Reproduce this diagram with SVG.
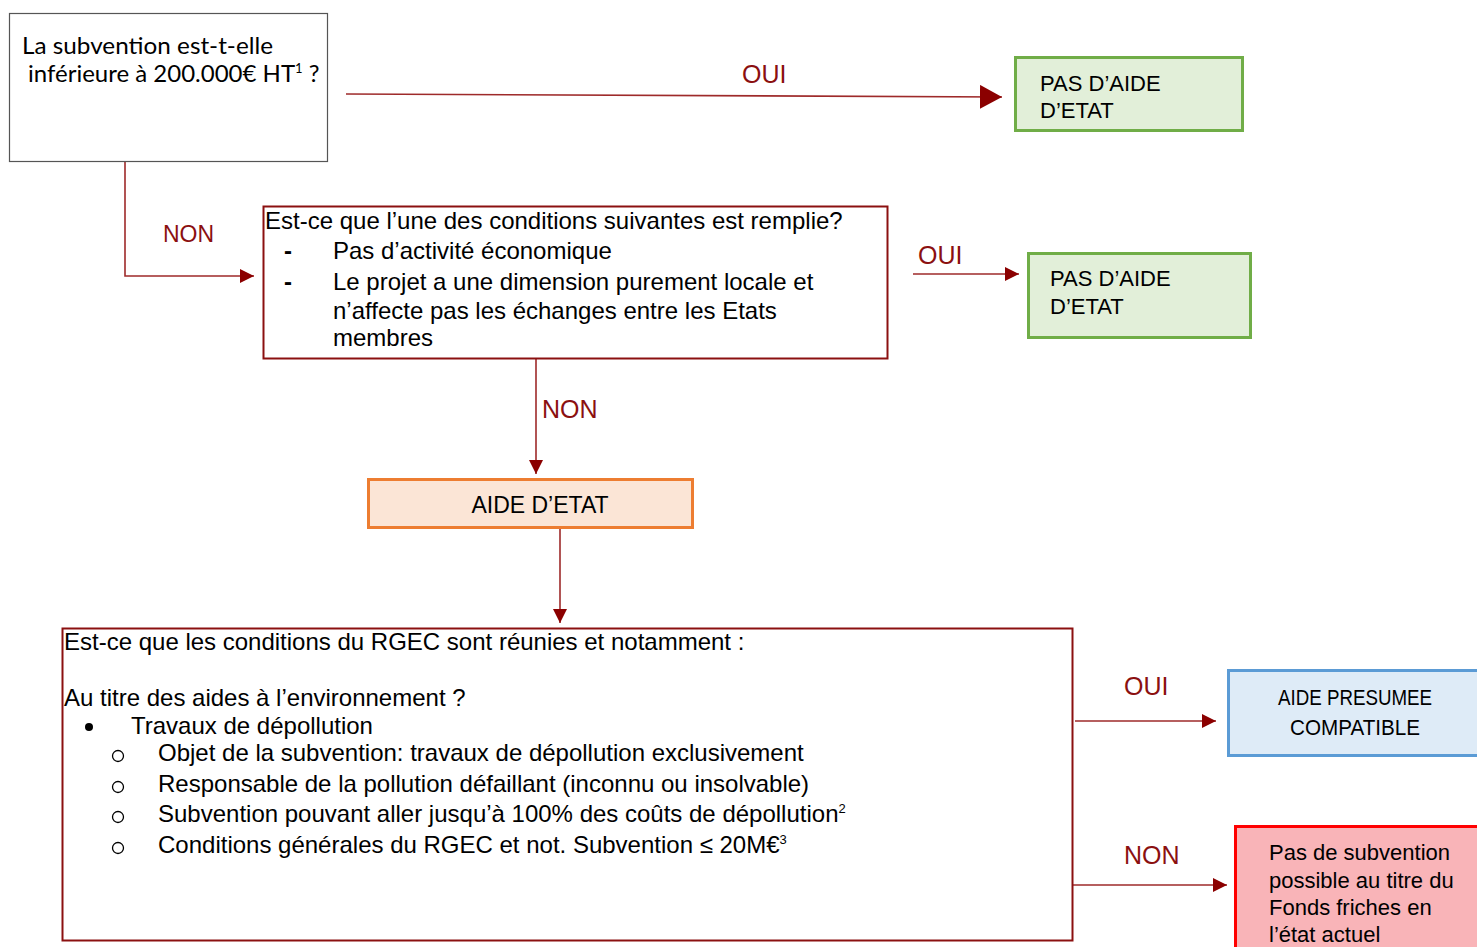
<svg xmlns="http://www.w3.org/2000/svg" width="1477" height="947" viewBox="0 0 1477 947">
<style>
.t{font-family:"Liberation Sans",Arial,sans-serif;font-size:22px;fill:#000}
.b{font-size:24px}
.c{font-family:Lato,"Open Sans","Liberation Sans",sans-serif;font-size:24px;fill:#000}
.lbl{font-family:"Liberation Sans",Arial,sans-serif;font-size:25px;fill:#8b1010}
.ln{stroke:#9e2a2a;stroke-width:1.6;fill:none}
.q{fill:#fff;stroke:#8b1010;stroke-width:2}
.g{fill:#e2efd9;stroke:#70ad47;stroke-width:3}
.o{fill:none;stroke:#000;stroke-width:1.3}
</style>
<defs>
<marker id="ah" viewBox="0 0 10 10" refX="10" refY="5" markerWidth="14" markerHeight="14" markerUnits="userSpaceOnUse" orient="auto"><path d="M0,0 L10,5 L0,10 Z" fill="#8b0000"/></marker>
<marker id="ahL" viewBox="0 0 10 10" refX="10" refY="5" markerWidth="22" markerHeight="24" markerUnits="userSpaceOnUse" orient="auto" preserveAspectRatio="none"><path d="M0,0 L10,5 L0,10 Z" fill="#8b0000"/></marker>
</defs>
<g id="connectors">
<line class="ln" x1="346" y1="94" x2="1002" y2="97" marker-end="url(#ahL)"/>
<text class="lbl" x="742" y="83">OUI</text>
<polyline class="ln" points="125,162 125,276 254,276" marker-end="url(#ah)"/>
<text class="lbl" x="163" y="242" style="font-size:23px">NON</text>
<line class="ln" x1="913" y1="274" x2="1019" y2="274" marker-end="url(#ah)"/>
<text class="lbl" x="918" y="264">OUI</text>
<line class="ln" x1="536" y1="359" x2="536" y2="474" marker-end="url(#ah)"/>
<text class="lbl" x="542" y="418">NON</text>
<line class="ln" x1="560" y1="528" x2="560" y2="623" marker-end="url(#ah)"/>
<line class="ln" x1="1075" y1="721" x2="1216" y2="721" marker-end="url(#ah)"/>
<text class="lbl" x="1124" y="695">OUI</text>
<line class="ln" x1="1073" y1="885" x2="1227" y2="885" marker-end="url(#ah)"/>
<text class="lbl" x="1124" y="864">NON</text>
</g>
<g id="n1">
<rect x="9.5" y="13.5" width="318" height="148" fill="#fff" stroke="#555" stroke-width="1.2"/>
<text class="c" x="22" y="54" textLength="251" lengthAdjust="spacingAndGlyphs">La subvention est-t-elle</text>
<text class="c" x="28" y="82">inférieure à 200.000€ HT<tspan font-size="13" dy="-9">1</tspan><tspan dy="9"> ?</tspan></text>
</g>
<g id="n2">
<rect class="g" x="1015.5" y="57.5" width="227" height="73"/>
<text class="t" x="1040" y="91">PAS D’AIDE</text>
<text class="t" x="1040" y="118">D’ETAT</text>
</g>
<g id="n3">
<rect class="q" x="263.5" y="206.5" width="624" height="152"/>
<text class="t b" x="265" y="229">Est-ce que l’une des conditions suivantes est remplie?</text>
<text class="t b" x="284" y="259" font-weight="bold">-</text>
<text class="t b" x="333" y="259">Pas d’activité économique</text>
<text class="t b" x="284" y="290" font-weight="bold">-</text>
<text class="t b" x="333" y="290">Le projet a une dimension purement locale et</text>
<text class="t b" x="333" y="319">n’affecte pas les échanges entre les Etats</text>
<text class="t b" x="333" y="346">membres</text>
</g>
<g id="n4">
<rect class="g" x="1028.5" y="253.5" width="222" height="84"/>
<text class="t" x="1050" y="286">PAS D’AIDE</text>
<text class="t" x="1050" y="314">D’ETAT</text>
</g>
<g id="n5">
<rect x="368.5" y="479.5" width="324" height="48" fill="#fbe5d6" stroke="#ed7d31" stroke-width="3"/>
<text class="t" x="540" y="513" text-anchor="middle" style="font-size:23px">AIDE D’ETAT</text>
</g>
<g id="n6">
<rect class="q" x="62.5" y="628.5" width="1010" height="312"/>
<text class="t b" x="64" y="650">Est-ce que les conditions du RGEC sont réunies et notamment :</text>
<text class="t b" x="64" y="706">Au titre des aides à l’environnement ?</text>
<circle cx="89" cy="727" r="4" fill="#000"/>
<text class="t b" x="131" y="734">Travaux de dépollution</text>
<circle class="o" cx="118" cy="756" r="5.5"/>
<text class="t b" x="158" y="761">Objet de la subvention: travaux de dépollution exclusivement</text>
<circle class="o" cx="118" cy="787" r="5.5"/>
<text class="t b" x="158" y="792">Responsable de la pollution défaillant (inconnu ou insolvable)</text>
<circle class="o" cx="118" cy="817" r="5.5"/>
<text class="t b" x="158" y="822">Subvention pouvant aller jusqu’à 100% des coûts de dépollution<tspan font-size="13" dy="-9">2</tspan></text>
<circle class="o" cx="118" cy="848" r="5.5"/>
<text class="t b" x="158" y="853">Conditions générales du RGEC et not. Subvention ≤ 20M€<tspan font-size="13" dy="-9">3</tspan></text>
</g>
<g id="n7">
<rect x="1228.5" y="670.5" width="252" height="85" fill="#deebf7" stroke="#5b9bd5" stroke-width="3"/>
<text class="t" x="1355" y="705" text-anchor="middle" textLength="154" lengthAdjust="spacingAndGlyphs">AIDE PRESUMEE</text>
<text class="t" x="1355" y="735" text-anchor="middle" textLength="130" lengthAdjust="spacingAndGlyphs">COMPATIBLE</text>
</g>
<g id="n8">
<rect x="1235.5" y="826.5" width="250" height="130" fill="#f9b4b8" stroke="#ff0000" stroke-width="3"/>
<text class="t" x="1269" y="860">Pas de subvention</text>
<text class="t" x="1269" y="888">possible au titre du</text>
<text class="t" x="1269" y="915">Fonds friches en</text>
<text class="t" x="1269" y="942">l’état actuel</text>
</g>
</svg>
